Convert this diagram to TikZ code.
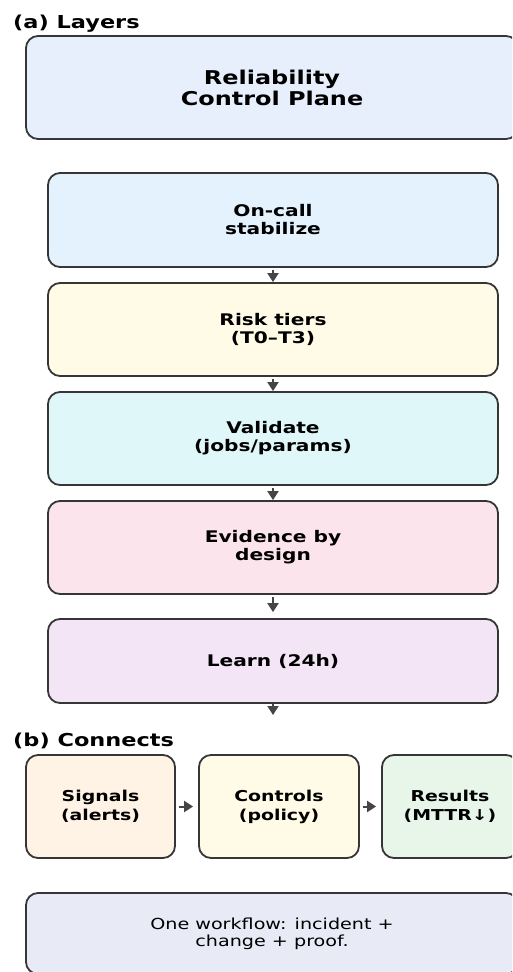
\documentclass[tikz,border=0pt]{standalone}
\usepackage{fontspec}
\setmainfont{DejaVu Sans}[FakeStretch=1.26]
\usetikzlibrary{arrows.meta}

\definecolor{edgegray}{HTML}{363636}
\definecolor{arrowgray}{HTML}{454545}
\definecolor{planeblue}{HTML}{E8EFFC}
\definecolor{oncallblue}{HTML}{E3F2FD}
\definecolor{riskyellow}{HTML}{FFFBE7}
\definecolor{validcyan}{HTML}{E0F7FA}
\definecolor{evidpink}{HTML}{FCE4EC}
\definecolor{learnlilac}{HTML}{F3E5F5}
\definecolor{signalorange}{HTML}{FFF3E6}
\definecolor{resultgreen}{HTML}{E8F5E9}
\definecolor{summaryindigo}{HTML}{E8EAF6}

\tikzset{
  card/.style={draw=edgegray, line width=1.8pt, rounded corners=12pt, align=center, inner sep=0pt},
  flow/.style={draw=arrowgray, line width=2pt, -{Triangle[length=9pt,width=11pt]}},
  heading/.style={anchor=base west, inner sep=0pt, font=\headingfontsize},
}

\begin{document}
\begin{tikzpicture}[x=1pt,y=-1pt]
    \pgfmathsetmacro{\layerx}{273}
    \pgfmathsetmacro{\layerwidth}{450}
    \pgfmathsetmacro{\rowy}{806.5}
    \providecommand{\headingfontsize}{\fontsize{17.8}{20}\selectfont\bfseries}
    \providecommand{\planefontsize}{\fontsize{19}{21}\selectfont\bfseries}
    \providecommand{\layerfontsize}{\fontsize{16}{18}\selectfont\bfseries}
    \providecommand{\rowfontsize}{\fontsize{15}{19}\selectfont\bfseries}
    \providecommand{\summaryfontsize}{\fontsize{15.2}{17}\selectfont}
    \useasboundingbox (0,0) rectangle (512,972);
    \clip (0,0) rectangle (512,972);
    % (a) layers
    \node[heading] (headlayers) at (13,28) {(a) Layers};
    \node[card, fill=planeblue, minimum width=492pt, minimum height=103pt, font=\planefontsize] (plane) at (272,87.5) {Reliability\\Control Plane};
    \node[card, fill=oncallblue, minimum width=\layerwidth pt, minimum height=94pt, font=\layerfontsize] (oncall) at (\layerx,220) {On-call\\stabilize};
    \node[card, fill=riskyellow, minimum width=\layerwidth pt, minimum height=93pt, font=\layerfontsize] (risk) at (\layerx,329.5) {Risk tiers\\(T0–T3)};
    \node[card, fill=validcyan, minimum width=\layerwidth pt, minimum height=93pt, font=\layerfontsize] (validate) at (\layerx,438.5) {Validate\\(jobs/params)};
    \node[card, fill=evidpink, minimum width=\layerwidth pt, minimum height=93pt, font=\layerfontsize] (evidence) at (\layerx,547.5) {Evidence by\\design};
    \node[card, fill=learnlilac, minimum width=\layerwidth pt, minimum height=84pt, font=\layerfontsize] (learn) at (\layerx,661) {Learn (24h)};
    \coordinate (learnout) at (\layerx,715);
    \draw[flow, shorten <=2pt] (oncall.south) -- (risk.north);
    \draw[flow, shorten <=2pt] (risk.south) -- (validate.north);
    \draw[flow, shorten <=2pt] (validate.south) -- (evidence.north);
    \draw[flow, shorten <=2pt, shorten >=6pt] (evidence.south) -- (learn.north);
    \draw[flow] (learn.south) -- (learnout);
    % (b) connects
    \node[heading] (headconnects) at (13,746) {(b) Connects};
    \node[card, fill=signalorange, minimum width=149pt, minimum height=103pt, font=\rowfontsize] (signals) at (100.5,\rowy) {Signals\\(alerts)};
    \node[card, fill=riskyellow, minimum width=160pt, minimum height=103pt, font=\rowfontsize] (controls) at (279,\rowy) {Controls\\(policy)};
    \node[card, fill=resultgreen, minimum width=136pt, minimum height=103pt, font=\rowfontsize] (results) at (450,\rowy) {Results\\(MTTR↓)};
    \draw[flow, shorten <=3pt, shorten >=5pt] (signals.east) -- (controls.west);
    \draw[flow, shorten <=3pt, shorten >=5pt] (controls.east) -- (results.west);
    \node[card, fill=summaryindigo, minimum width=492pt, minimum height=81pt, font=\summaryfontsize] (summary) at (272,933.5) {One workflow: incident +\\change + proof.};
\end{tikzpicture}
\end{document}
